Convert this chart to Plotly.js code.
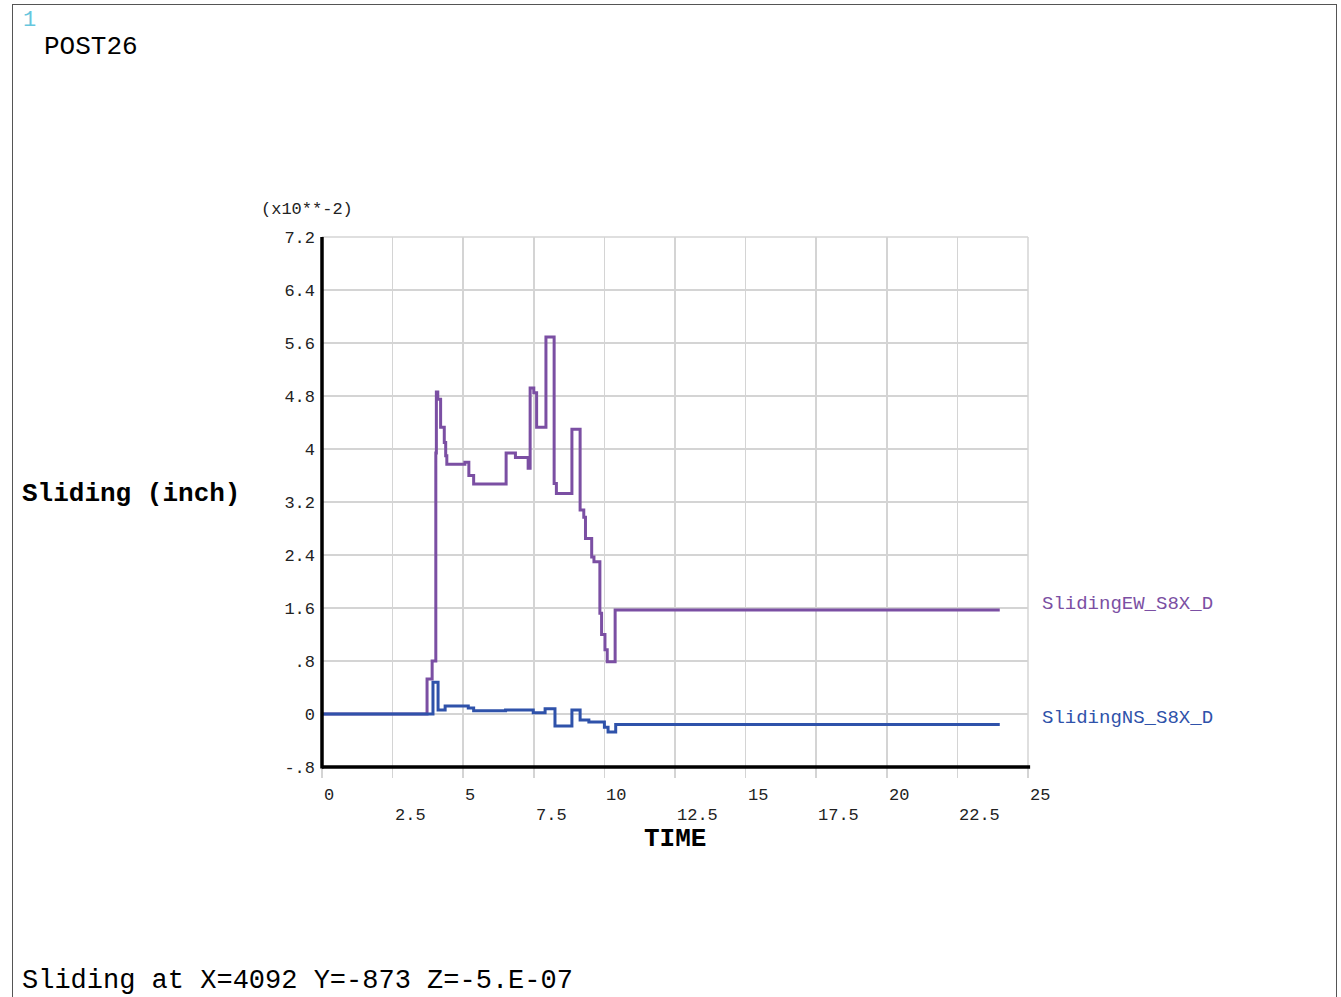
<!DOCTYPE html>
<html>
<head>
<meta charset="utf-8">
<script src="https://cdn.plot.ly/plotly-3.0.1.min.js"></script>
<style>
  html, body { margin: 0; padding: 0; background: #fff; }
  #frame { position: absolute; left: 12px; top: 4px; width: 1325px; height: 1010px; border: 1.5px solid #555; box-sizing: border-box; pointer-events: none; z-index: 5; }
  #chart { position: absolute; left: 0; top: 0; width: 1341px; height: 997px; }
</style>
</head>
<body>
<div id="chart"></div>
<div id="frame"></div>
<script>
// Values in units of 1e-2 inch (axis label "(x10**-2)")
const ewTime = [0, 3.72, 3.9, 4.03, 4.05, 4.1, 4.2, 4.33, 4.38, 4.42, 5.06, 5.2, 5.37, 6.52, 6.85, 7.3, 7.37, 7.5, 7.6, 7.93, 8.22, 8.3, 8.85, 9.14, 9.27, 9.33, 9.55, 9.63, 9.84, 9.9, 10.02, 10.1, 10.38, 24.0];
const ewValue = [0, 0.53, 0.8, 3.94, 4.86, 4.75, 4.33, 4.1, 3.9, 3.77, 3.8, 3.6, 3.47, 3.94, 3.87, 3.71, 4.92, 4.85, 4.33, 5.69, 3.48, 3.33, 4.3, 3.08, 2.97, 2.65, 2.37, 2.3, 1.52, 1.2, 0.97, 0.79, 1.57, 1.57];

const nsTime = [0, 3.93, 4.11, 4.36, 5.18, 5.37, 6.5, 7.48, 7.9, 8.25, 8.85, 9.14, 9.45, 10.0, 10.13, 10.4, 24.0];
const nsValue = [0, 0.48, 0.06, 0.12, 0.09, 0.05, 0.06, 0.02, 0.08, -0.18, 0.06, -0.09, -0.12, -0.2, -0.27, -0.16, -0.16];

const seriesNames = ["SlidingEW_S8X_D", "SlidingNS_S8X_D"];
const seriesColors = ["#7b4fa3", "#2f52aa"];

const xTickVals = [0, 2.5, 5, 7.5, 10, 12.5, 15, 17.5, 20, 22.5, 25];
const xTickText = ["0", "2.5", "5", "7.5", "10", "12.5", "15", "17.5", "20", "22.5", "25"];
const yTickVals = [-0.8, 0, 0.8, 1.6, 2.4, 3.2, 4, 4.8, 5.6, 6.4, 7.2];
const yTickText = ["-.8", "0", ".8", "1.6", "2.4", "3.2", "4", "4.8", "5.6", "6.4", "7.2"];

const FONT = "Liberation Mono, DejaVu Sans Mono, monospace";
const L = 322, R = 1028, T = 237, B = 767;
const px = p => (p - L) / (R - L);
const py = p => (B - p) / (B - T);

const traces = [
  { x: ewTime, y: ewValue, name: seriesNames[0], mode: "lines", line: { shape: "hv", color: seriesColors[0], width: 3 } },
  { x: nsTime, y: nsValue, name: seriesNames[1], mode: "lines", line: { shape: "hv", color: seriesColors[1], width: 3 } }
];

const annotations = [];
function txt(text, x, y, opts) {
  annotations.push(Object.assign({
    text: text, xref: "paper", yref: "paper", x: px(x), y: py(y),
    xanchor: "left", yanchor: "middle", showarrow: false,
    font: { family: FONT, size: 17, color: "#000" }
  }, opts || {}));
}
txt("1", 21, 20, { font: { family: FONT, size: 22, color: "#66c6dd" } });
txt("POST26", 42, 47, { font: { family: FONT, size: 26, color: "#000" } });
txt("(x10**-2)", 259, 210, { font: { family: FONT, size: 17, color: "#222" } });
txt("<b>Sliding (inch)</b>", 20, 494, { font: { family: FONT, size: 26, color: "#000" } });
txt("<b>TIME</b>", 675, 839, { xanchor: "center", font: { family: FONT, size: 26, color: "#000" } });
txt("Sliding at X=4092 Y=-873 Z=-5.E-07", 20, 981, { font: { family: FONT, size: 27, color: "#000" } });
txt(seriesNames[0], 1040, 604, { font: { family: FONT, size: 19, color: seriesColors[0] } });
txt(seriesNames[1], 1040, 718, { font: { family: FONT, size: 19, color: seriesColors[1] } });

xTickVals.forEach((v, i) => {
  const lower = i % 2 === 1;
  annotations.push({
    text: xTickText[i], xref: "x", yref: "paper", x: v, y: py(lower ? 815 : 795),
    xanchor: "left", yanchor: "middle", showarrow: false,
    font: { family: FONT, size: 17, color: "#222" }
  });
});

const layout = {
  width: 1341, height: 997,
  margin: { l: L, r: 1341 - R, t: T, b: 997 - B, pad: 0 },
  paper_bgcolor: "#fff", plot_bgcolor: "#fff",
  showlegend: false,
  xaxis: {
    range: [0, 25], tickvals: xTickVals, ticktext: xTickText, showticklabels: false,
    showgrid: true, gridcolor: "#d4d4d4", gridwidth: 1.5, zeroline: false,
    ticks: "outside", ticklen: 10, tickcolor: "#d4d4d4", tickwidth: 1.5,
    showline: false, fixedrange: true
  },
  yaxis: {
    range: [-0.8, 7.2], tickvals: yTickVals, ticktext: yTickText,
    showgrid: true, gridcolor: "#d4d4d4", gridwidth: 1.5, zeroline: false,
    ticks: "", ticklabelstandoff: 6,
    tickfont: { family: FONT, size: 17, color: "#222" },
    showline: false, fixedrange: true
  },
  shapes: [
    { type: "line", xref: "paper", yref: "paper", x0: 0, x1: 1, y0: 1, y1: 1, line: { color: "#d4d4d4", width: 1.5 } },
    { type: "line", xref: "paper", yref: "paper", x0: 1, x1: 1, y0: 0, y1: 1, line: { color: "#d4d4d4", width: 1.5 } },
    { type: "line", xref: "paper", yref: "paper", x0: 0, x1: 1.003, y0: 0, y1: 0, line: { color: "#000", width: 3.5 }, layer: "above" },
    { type: "line", xref: "paper", yref: "paper", x0: 0, x1: 0, y0: -0.003, y1: 1, line: { color: "#000", width: 3.5 }, layer: "above" }
  ],
  annotations: annotations
};

Plotly.newPlot("chart", traces, layout, { displayModeBar: false, staticPlot: true });
</script>
</body>
</html>
